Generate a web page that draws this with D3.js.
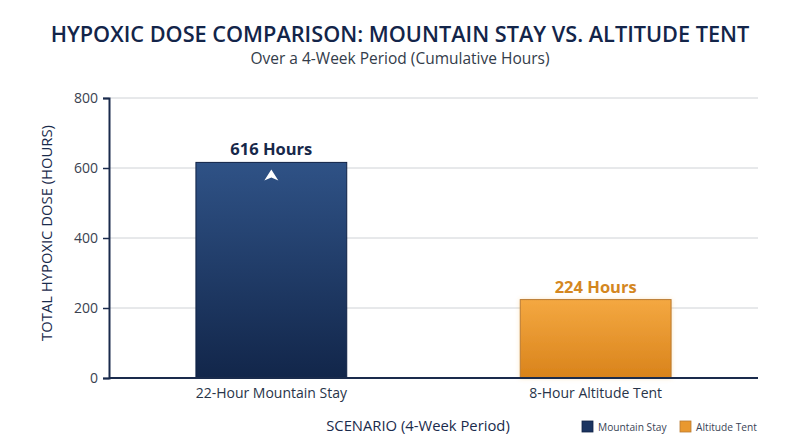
<!DOCTYPE html>
<html>
<head>
<meta charset="utf-8">
<script src="https://cdn.jsdelivr.net/npm/d3@7"></script>
<style>
  body { margin: 0; background: #fff; }
  text { font-family: "Open Sans", "Noto Sans", sans-serif; }
</style>
</head>
<body>
<svg id="chart" width="800" height="447"></svg>
<script>
// data
const scenarios = ['22-Hour Mountain Stay', '8-Hour Altitude Tent'];
const hours = [616, 224];
const legendNames = ['Mountain Stay', 'Altitude Tent'];
const yTicks = [0, 200, 400, 600, 800];

const svg = d3.select('#chart');
const margin = { left: 109, right: 42, top: 98, bottom: 69 };
const W = 800, H = 447;

const x = d3.scaleBand()
    .domain(scenarios)
    .range([margin.left, W - margin.right])
    .paddingInner(0.535)
    .paddingOuter(0.268);

const y = d3.scaleLinear()
    .domain([0, 800])
    .range([H - margin.bottom, margin.top]);

// gradients
const defs = svg.append('defs');
const grads = [
    { id: 'gNavy', top: '#2f5286', bottom: '#12264a' },
    { id: 'gOrange', top: '#f4a841', bottom: '#d9831b' }
];
grads.forEach(g => {
    const lg = defs.append('linearGradient')
        .attr('id', g.id).attr('x1', 0).attr('y1', 0).attr('x2', 0).attr('y2', 1);
    lg.append('stop').attr('offset', '0%').attr('stop-color', g.top);
    lg.append('stop').attr('offset', '100%').attr('stop-color', g.bottom);
});
const glow = defs.append('filter').attr('id', 'glow')
    .attr('x', '-10%').attr('y', '-10%').attr('width', '120%').attr('height', '120%');
glow.append('feGaussianBlur').attr('in', 'SourceAlpha').attr('stdDeviation', 2).attr('result', 'b');
glow.append('feFlood').attr('flood-color', '#f6b44f').attr('flood-opacity', 0.35);
glow.append('feComposite').attr('in2', 'b').attr('operator', 'in');
const gm = glow.append('feMerge');
gm.append('feMergeNode');
gm.append('feMergeNode').attr('in', 'SourceGraphic');

const fills = ['url(#gNavy)', 'url(#gOrange)'];
const strokes = ['#0f2145', '#b87a33'];
const labelColors = ['#17284a', '#d4871f'];
const legendColors = ['#1b3461', '#e9982f'];

// gridlines
svg.append('g')
    .selectAll('line')
    .data(yTicks.slice(1))
    .join('line')
    .attr('x1', margin.left)
    .attr('x2', W - margin.right)
    .attr('y1', d => y(d))
    .attr('y2', d => y(d))
    .attr('stroke', '#cfd2d6')
    .attr('stroke-width', 1);

// bars
svg.append('g')
    .selectAll('rect')
    .data(hours)
    .join('rect')
    .attr('x', (d, i) => x(scenarios[i]))
    .attr('y', d => y(d))
    .attr('width', x.bandwidth())
    .attr('height', d => y(0) - y(d))
    .attr('fill', (d, i) => fills[i])
    .attr('stroke', (d, i) => strokes[i])
    .attr('stroke-width', 1)
    .attr('filter', (d, i) => i === 1 ? 'url(#glow)' : null);

// value labels
svg.append('g')
    .selectAll('text')
    .data(hours)
    .join('text')
    .attr('x', (d, i) => x(scenarios[i]) + x.bandwidth() / 2)
    .attr('y', d => y(d) - 7)
    .attr('text-anchor', 'middle')
    .attr('font-size', 16.5)
    .attr('font-weight', 700)
    .attr('fill', (d, i) => labelColors[i])
    .text(d => `${d} Hours`);

// up arrow in first bar
const ax = x(scenarios[0]) + x.bandwidth() / 2, ay = y(hours[0]) + 13;
svg.append('path')
    .attr('d', `M${ax},${ay - 6} L${ax + 7},${ay + 5} L${ax},${ay + 2} L${ax - 7},${ay + 5} Z`)
    .attr('fill', '#fff');

// axes
const yAxis = svg.append('g')
    .attr('transform', `translate(${margin.left},0)`)
    .call(d3.axisLeft(y).tickValues(yTicks).tickSize(6).tickPadding(5));
yAxis.select('.domain').attr('stroke', '#1a2b4c').attr('stroke-width', 2);
yAxis.selectAll('.tick line').attr('stroke', '#1a2b4c').attr('stroke-width', 1.5);
yAxis.selectAll('.tick text')
    .attr('font-size', 14)
    .attr('fill', '#3a4250')
    .style('font-family', '"Open Sans", sans-serif');

const xAxis = svg.append('g')
    .attr('transform', `translate(0,${y(0)})`)
    .call(d3.axisBottom(x).tickSize(0).tickPadding(10));
xAxis.select('.domain').attr('stroke', '#1a2b4c').attr('stroke-width', 2)
    .attr('d', `M${margin.left},0H${W - margin.right}`);
xAxis.selectAll('.tick text')
    .attr('font-size', 14)
    .attr('fill', '#283449')
    .style('font-family', '"Open Sans", sans-serif');

// titles
svg.append('text')
    .attr('x', 400).attr('y', 42)
    .attr('text-anchor', 'middle')
    .attr('font-size', 21.7)
    .attr('font-weight', 600)
    .attr('fill', '#13254a')
    .text('HYPOXIC DOSE COMPARISON: MOUNTAIN STAY VS. ALTITUDE TENT');

svg.append('text')
    .attr('x', 400).attr('y', 64)
    .attr('text-anchor', 'middle')
    .attr('font-size', 15.5)
    .attr('fill', '#333c4a')
    .text('Over a 4-Week Period (Cumulative Hours)');

svg.append('text')
    .attr('transform', `translate(52,${(y(0) + y(800)) / 2 - 5}) rotate(-90)`)
    .attr('text-anchor', 'middle')
    .attr('font-size', 14.8)
    .attr('fill', '#1a2b4c')
    .text('TOTAL HYPOXIC DOSE (HOURS)');

svg.append('text')
    .attr('x', 418).attr('y', 431)
    .attr('text-anchor', 'middle')
    .attr('font-size', 14.8)
    .attr('fill', '#1a2b4c')
    .text('SCENARIO (4-Week Period)');

// legend
const legendX = [582, 680];
const legend = svg.append('g')
    .selectAll('g')
    .data(legendNames)
    .join('g')
    .attr('transform', (d, i) => `translate(${legendX[i]},421)`);
legend.append('rect')
    .attr('width', 11).attr('height', 11)
    .attr('fill', (d, i) => legendColors[i])
    .attr('stroke', (d, i) => strokes[i])
    .attr('stroke-width', 0.8);
legend.append('text')
    .attr('x', 16).attr('y', 9.5)
    .attr('font-size', 10.2)
    .attr('fill', '#3a4456')
    .text(d => d);
</script>
</body>
</html>
